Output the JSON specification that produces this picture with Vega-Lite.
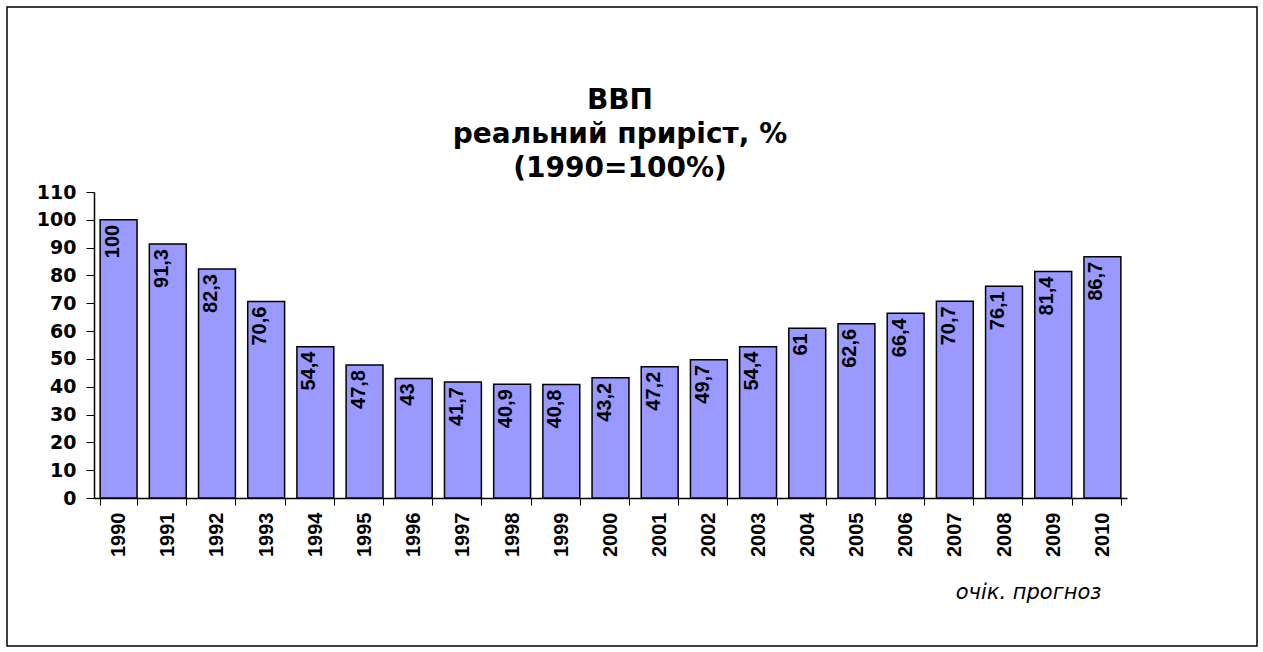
{
  "$schema": "https://vega.github.io/schema/vega-lite/v6.json",
  "width": 1250,
  "height": 639,
  "autosize": {"type": "none"},
  "padding": {"left": 7, "top": 7, "right": 6, "bottom": 6},
  "background": "white",
  "config": {"view": {"stroke": "#000", "strokeWidth": 1.5}},
  "title": {
    "text": ["ВВП", "реальний приріст, %", "(1990=100%)"],
    "font": "DejaVu Sans",
    "fontSize": 28,
    "fontWeight": "bold",
    "lineHeight": 34,
    "anchor": "middle",
    "dx": -12,
    "offset": -176,
    "color": "#000"
  },
  "data": {
    "values": [
      {"year": "1990", "value": 100, "label": "100"},
      {"year": "1991", "value": 91.3, "label": "91,3"},
      {"year": "1992", "value": 82.3, "label": "82,3"},
      {"year": "1993", "value": 70.6, "label": "70,6"},
      {"year": "1994", "value": 54.4, "label": "54,4"},
      {"year": "1995", "value": 47.8, "label": "47,8"},
      {"year": "1996", "value": 43, "label": "43"},
      {"year": "1997", "value": 41.7, "label": "41,7"},
      {"year": "1998", "value": 40.9, "label": "40,9"},
      {"year": "1999", "value": 40.8, "label": "40,8"},
      {"year": "2000", "value": 43.2, "label": "43,2"},
      {"year": "2001", "value": 47.2, "label": "47,2"},
      {"year": "2002", "value": 49.7, "label": "49,7"},
      {"year": "2003", "value": 54.4, "label": "54,4"},
      {"year": "2004", "value": 61, "label": "61"},
      {"year": "2005", "value": 62.6, "label": "62,6"},
      {"year": "2006", "value": 66.4, "label": "66,4"},
      {"year": "2007", "value": 70.7, "label": "70,7"},
      {"year": "2008", "value": 76.1, "label": "76,1"},
      {"year": "2009", "value": 81.4, "label": "81,4"},
      {"year": "2010", "value": 86.7, "label": "86,7"}
    ]
  },
  "layer": [
    {
      "mark": {"type": "bar", "fill": "#9999FF", "stroke": "#000", "strokeWidth": 1.5},
      "encoding": {
        "x": {
          "field": "year",
          "type": "ordinal",
          "scale": {"range": [87, 1120], "paddingInner": 0.25, "paddingOuter": 0.125},
          "axis": {
            "title": "очік. прогноз",
            "titleFont": "DejaVu Sans",
            "titleFontStyle": "italic",
            "titleFontWeight": "normal",
            "titleFontSize": 21,
            "titleColor": "#000",
            "titleAlign": "right",
            "titleBaseline": "alphabetic",
            "titleX": 1094,
            "titleY": 100,
            "offset": -148,
            "labelAngle": 270,
            "labelFont": "Liberation Sans",
            "labelFontSize": 20,
            "labelFontWeight": "bold",
            "labelColor": "#000",
            "labelPadding": 7,
            "tickSize": 7,
            "tickColor": "#000",
            "tickBand": "extent",
            "domainColor": "#000",
            "domainWidth": 1.5,
            "grid": false
          }
        },
        "y": {
          "field": "value",
          "type": "quantitative",
          "scale": {"domain": [0, 110], "range": [491, 185], "nice": false},
          "axis": {
            "title": null,
            "values": [0, 10, 20, 30, 40, 50, 60, 70, 80, 90, 100, 110],
            "offset": -87,
            "labelFont": "DejaVu Sans",
            "labelFontSize": 19,
            "labelFontWeight": "bold",
            "labelColor": "#000",
            "labelPadding": 10,
            "tickSize": 8,
            "tickColor": "#000",
            "domainColor": "#000",
            "domainWidth": 1.5,
            "grid": false
          }
        }
      }
    },
    {
      "mark": {"type": "text", "angle": 270, "align": "right", "baseline": "alphabetic", "dx": -5, "font": "Liberation Sans", "fontSize": 20, "fontWeight": "bold", "fill": "#000"},
      "encoding": {
        "x": {"field": "year", "type": "ordinal"},
        "y": {"field": "value", "type": "quantitative"},
        "text": {"field": "label"}
      }
    }
  ]
}
